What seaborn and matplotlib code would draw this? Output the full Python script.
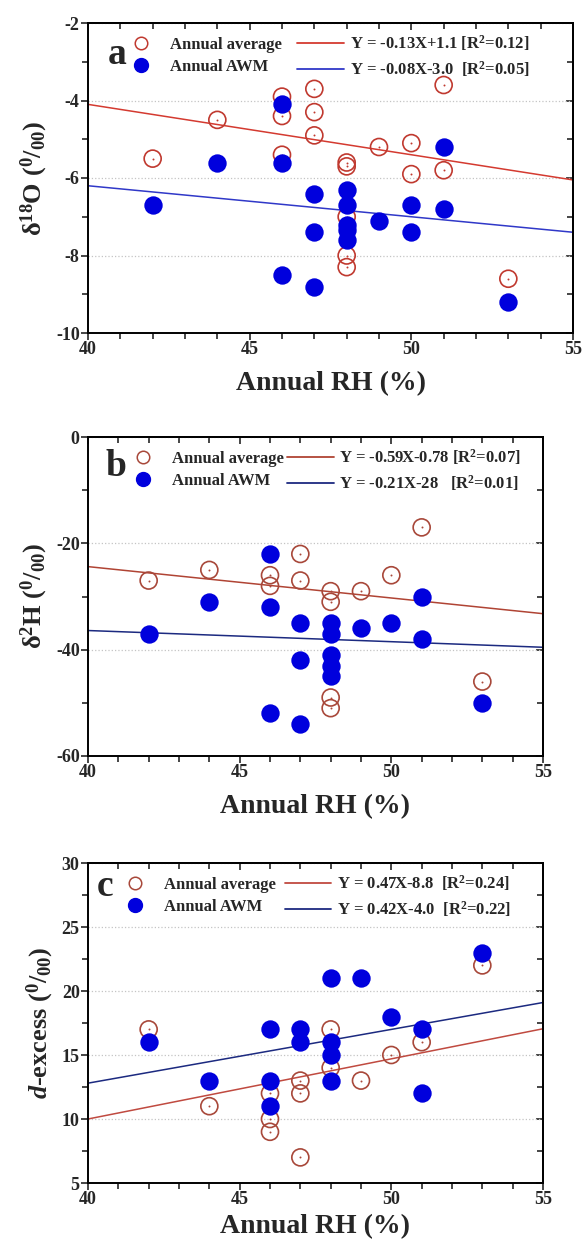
import numpy as np
import matplotlib
matplotlib.use("Agg")
import matplotlib.pyplot as plt
from matplotlib.ticker import MultipleLocator
from matplotlib.lines import Line2D
import seaborn as sns

# ---- data ----
# panel a: d18O vs annual RH
rh_a_avg = [42, 44, 46, 46, 46, 47, 47, 47, 48, 48, 48, 48, 48, 49, 50, 50, 51, 51, 53]
d18o_avg = [-5.5, -4.5, -3.9, -4.4, -5.4, -3.7, -4.3, -4.9, -5.6, -5.7, -7.0, -8.0, -8.3,
            -5.2, -5.1, -5.9, -3.6, -5.8, -8.6]
rh_a_awm = [42, 44, 46, 46, 46, 47, 47, 47, 48, 48, 48, 48, 48, 49, 50, 50, 51, 51, 53]
d18o_awm = [-6.7, -5.6, -4.1, -5.6, -8.5, -6.4, -7.4, -8.8, -6.3, -6.7, -7.2, -7.35, -7.6,
            -7.1, -6.7, -7.4, -5.2, -6.8, -9.2]

# panel b: d2H vs annual RH
rh_b_avg = [42, 44, 46, 46, 47, 47, 48, 48, 48, 48, 49, 50, 51, 53]
d2h_avg = [-27, -25, -26, -28, -22, -27, -29, -31, -49, -51, -29, -26, -17, -46]
rh_b_awm = [42, 44, 46, 46, 46, 47, 47, 47, 48, 48, 48, 48, 48, 49, 50, 51, 51, 53]
d2h_awm = [-37, -31, -22, -32, -52, -35, -42, -54, -35, -37, -41, -43, -45, -36, -35, -30, -38, -50]

# panel c: d-excess vs annual RH
rh_c_avg = [42, 44, 46, 46, 46, 47, 47, 47, 48, 48, 49, 50, 51, 53]
dex_avg = [17, 11, 12, 10, 9, 13, 12, 7, 17, 14, 13, 15, 16, 22]
rh_c_awm = [42, 44, 46, 46, 46, 47, 47, 48, 48, 48, 48, 49, 50, 51, 51, 53]
dex_awm = [16, 13, 17, 13, 11, 17, 16, 21, 16, 15, 13, 21, 18, 17, 12, 23]

# fitted lines as printed on the figure (slope, intercept)
fit_avg = [(-0.13, 1.1), (-0.59, -0.78), (0.47, -8.8)]
fit_awm = [(-0.08, -3.0), (-0.21, -28.0), (0.42, -4.0)]
eq_avg = [r"Y = -0.13X+1.1 [R$^2$=0.12]", r"Y = -0.59X-0.78 [R$^2$=0.07]",
          r"Y = 0.47X-8.8  [R$^2$=0.24]"]
eq_awm = [r"Y = -0.08X-3.0  [R$^2$=0.05]", r"Y = -0.21X-28   [R$^2$=0.01]",
          r"Y = 0.42X-4.0  [R$^2$=0.22]"]
panel_letters = ["a", "b", "c"]
ylabels = [r"$\delta^{18}$O ($^{0}/_{00}$)", r"$\delta^{2}$H ($^{0}/_{00}$)",
           r"$\mathit{d}$-excess ($^{0}/_{00}$)"]
ylims = [(-10, -2), (-60, 0), (5, 30)]
ymajor = [2, 20, 5]
yminor = [1, 10, 2.5]

sns.set_style("ticks")
plt.rcParams["font.family"] = ["Liberation Serif", "DejaVu Serif"]
plt.rcParams["font.weight"] = "bold"
plt.rcParams["axes.labelweight"] = "bold"
plt.rcParams["axes.unicode_minus"] = False
plt.rcParams["mathtext.fontset"] = "custom"
plt.rcParams["mathtext.rm"] = "Liberation Serif:bold"
plt.rcParams["mathtext.bf"] = "Liberation Serif:bold"
plt.rcParams["mathtext.it"] = "Liberation Serif:italic:bold"
plt.rcParams["mathtext.default"] = "rm"

W, H = 585, 1248
fig = plt.figure(figsize=(W / 100, H / 100), dpi=100)

# axes boxes in pixels: left, right, top, bottom
boxes = [(88, 573, 23, 333), (88, 543, 437, 756), (88, 543, 863, 1183)]
legend_x = [118, 120, 112]
col_space = [0.9, 0.15, 0.5]
xlab_pad = [9, 9, 4]
letter_pos = [(117, 55), (116, 466), (105, 886)]

red_pt = ["#c0392f", "#a8483a", "#a8483a"]
red_ln = ["#d43a30", "#b04434", "#c04a40"]
blue_pt = "#0000dd"
blue_ln = ["#3038c8", "#1c2a80", "#1c2a80"]

series = [(rh_a_avg, d18o_avg, rh_a_awm, d18o_awm),
          (rh_b_avg, d2h_avg, rh_b_awm, d2h_awm),
          (rh_c_avg, dex_avg, rh_c_awm, dex_awm)]

for i, (l, r, t, b) in enumerate(boxes):
    ax = fig.add_axes([l / W, 1 - b / H, (r - l) / W, (b - t) / H])
    xa, ya, xw, yw = series[i]

    # regression lines from printed equations
    xs = np.array([40, 55])
    ax.plot(xs, fit_avg[i][0] * xs + fit_avg[i][1], color=red_ln[i], lw=1.1, zorder=2)
    ax.plot(xs, fit_awm[i][0] * xs + fit_awm[i][1], color=blue_ln[i], lw=1.1, zorder=2)

    sns.scatterplot(x=xa, y=ya, ax=ax, s=150, color=red_pt[i], facecolor="none",
                    edgecolor=red_pt[i], linewidth=1.2, zorder=3)
    sns.scatterplot(x=xa, y=ya, ax=ax, s=2, color=red_pt[i], linewidth=0, zorder=3)
    sns.scatterplot(x=xw, y=yw, ax=ax, s=175, color=blue_pt, linewidth=0, zorder=4)

    ax.set_xlim(40, 55)
    ax.set_ylim(*ylims[i])
    ax.xaxis.set_major_locator(MultipleLocator(5))
    ax.xaxis.set_minor_locator(MultipleLocator(1))
    ax.yaxis.set_major_locator(MultipleLocator(ymajor[i]))
    ax.yaxis.set_minor_locator(MultipleLocator(yminor[i]))
    ax.tick_params(which="both", direction="out", width=1.2, labelsize=13,
                   top=False, right=False)
    ax.tick_params(which="major", length=5, pad=1)
    ax.tick_params(which="minor", length=4)
    for lab in ax.get_xticklabels() + ax.get_yticklabels():
        lab.set_fontweight("bold")
    for sp in ax.spines.values():
        sp.set_linewidth(1.4)
        sp.set_color("black")

    # inward ticks on the top and right spines
    sx = ax.secondary_xaxis("top")
    sx.xaxis.set_major_locator(MultipleLocator(5))
    sx.xaxis.set_minor_locator(MultipleLocator(1))
    sx.tick_params(which="both", direction="in", labeltop=False, width=1.2)
    sx.tick_params(which="major", length=5)
    sx.tick_params(which="minor", length=4)
    sy = ax.secondary_yaxis("right")
    sy.yaxis.set_major_locator(MultipleLocator(ymajor[i]))
    sy.yaxis.set_minor_locator(MultipleLocator(yminor[i]))
    sy.tick_params(which="both", direction="in", labelright=False, width=1.2)
    sy.tick_params(which="major", length=5)
    sy.tick_params(which="minor", length=4)
    for s2 in (sx, sy):
        for sp in s2.spines.values():
            sp.set_linewidth(1.4)

    ax.yaxis.grid(True, which="major", linestyle=":", color="#c4c4c4", lw=0.9)
    ax.set_axisbelow(True)

    ax.set_xlabel("Annual RH (%)", fontsize=20, fontweight="bold", labelpad=xlab_pad[i])
    ax.set_ylabel(ylabels[i], fontsize=19, fontweight="bold", labelpad=4)

    lx, ly = letter_pos[i]
    ax.text((lx - l) / (r - l), 1 - (ly - t) / (b - t), panel_letters[i],
            transform=ax.transAxes, fontsize=27, fontweight="bold",
            ha="center", va="center")

    handles = [
        Line2D([], [], ls="", marker="o", ms=9, mfc="none", mec=red_pt[i], mew=1.1),
        Line2D([], [], ls="", marker="o", ms=10, mfc=blue_pt, mec=blue_pt),
        Line2D([], [], color=red_ln[i], lw=1.3),
        Line2D([], [], color=blue_ln[i], lw=1.3),
    ]
    labels = ["Annual average", "Annual AWM", eq_avg[i], eq_awm[i]]
    top_y = 10 / (b - t)
    ax.legend(handles, labels, ncol=2, loc="upper left",
              bbox_to_anchor=((legend_x[i] - l) / (r - l), 1 - top_y),
              frameon=False, borderpad=0, borderaxespad=0, handlelength=2.8,
              handletextpad=0.35, columnspacing=col_space[i], labelspacing=0.4,
              prop={"family": "Liberation Serif", "weight": "bold", "size": 12})

fig.savefig("out.png", dpi=100)
